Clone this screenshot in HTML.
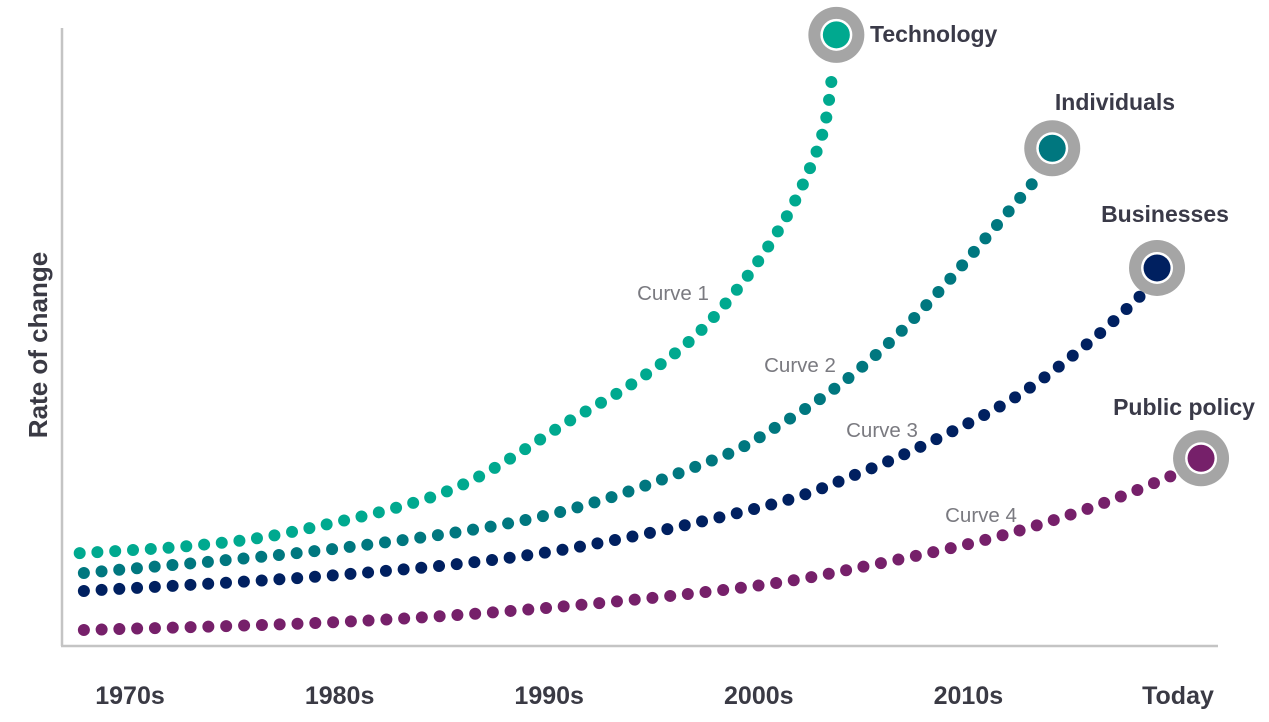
<!DOCTYPE html>
<html><head><meta charset="utf-8">
<style>
html,body{margin:0;padding:0;background:#fff;}
svg{display:block;font-family:"Liberation Sans",sans-serif;}
</style></head>
<body>
<svg id="chart" width="1269" height="722" viewBox="0 0 1269 722" xmlns="http://www.w3.org/2000/svg">
  <line x1="62" y1="28" x2="62" y2="646" stroke="#c4c4c4" stroke-width="2.5"/>
  <line x1="61" y1="646" x2="1218" y2="646" stroke="#c4c4c4" stroke-width="2.5"/>
  <text transform="translate(47,345) rotate(-90)" text-anchor="middle" font-size="26" font-weight="bold" fill="#3a3a44">Rate of change</text>
  <g id="xticks"></g>
  <g id="series"></g>
</svg>
<script>
const tickYears = [1970, 1980, 1990, 2000, 2010, 2020];
const tickLabels = ["1970s", "1980s", "1990s", "2000s", "2010s", "Today"];
const seriesNames = ["Technology", "Individuals", "Businesses", "Public policy"];
const curveLabels = ["Curve 1", "Curve 2", "Curve 3", "Curve 4"];
const c1Years = [1967.6, 1973.3, 1978.1, 1985.3, 1991.1, 1994.0, 1996.8, 1999.1, 2001.0, 2002.2, 2003.1, 2003.5, 2003.7];
const c1Values = [15.3, 16.6, 19.0, 25.5, 36.9, 42.7, 49.8, 58.4, 67.7, 75.5, 83.7, 92.3, 98.9];
const c2Years = [1967.8, 1980.0, 1990.0, 1997.8, 2000.9, 2003.8, 2006.4, 2008.7, 2011.0, 2013.2, 2014.0];
const c2Values = [12.1, 16.1, 21.5, 30.3, 35.8, 42.3, 49.8, 57.9, 66.8, 75.5, 80.6];
const c3Years = [1967.8, 1980.0, 1990.0, 2000.1, 2004.8, 2008.6, 2012.4, 2015.8, 2018.4, 2019.0];
const c3Values = [9.2, 11.8, 15.5, 22.7, 28.2, 33.9, 40.8, 49.4, 57.4, 61.3];
const c4Years = [1967.8, 1980.0, 1990.0, 1999.8, 2005.4, 2011.1, 2015.9, 2019.8, 2021.1];
const c4Values = [2.9, 4.2, 6.5, 10.0, 13.4, 17.7, 22.7, 27.9, 30.6];

const NS = "http://www.w3.org/2000/svg";
function xs(yr){ return 130 + (yr - 1970) * 20.96; }
function ys(v){ return 648 - v * 6.2; }

const colors = ["#00a98f", "#00777f", "#002060", "#76206a"];
const nameLabelPos = [[870, 42, "start"], [1115, 110, "middle"], [1165, 222, "middle"], [1184, 415, "middle"]];
const curveLabelPos = [[673, 300], [800, 372], [882, 437], [981, 522]];

const xt = document.getElementById('xticks');
tickYears.forEach((yr, i) => {
  const t = document.createElementNS(NS, 'text');
  
  
  t.setAttribute('x', xs(yr));
  t.setAttribute('y', 704);
  t.setAttribute('text-anchor', 'middle');
  t.setAttribute('font-size', '25');
  t.setAttribute('font-weight', 'bold');
  t.setAttribute('fill', '#3a3a44');
  t.textContent = tickLabels[i];
  xt.appendChild(t);
});

function catmull(pts){
  let d = 'M' + pts[0][0] + ',' + pts[0][1];
  for (let i = 0; i < pts.length - 1; i++) {
    const p0 = pts[i-1] || pts[i], p1 = pts[i], p2 = pts[i+1], p3 = pts[i+2] || p2;
    const c1x = p1[0] + (p2[0]-p0[0])/6, c1y = p1[1] + (p2[1]-p0[1])/6;
    const c2x = p2[0] - (p3[0]-p1[0])/6, c2y = p2[1] - (p3[1]-p1[1])/6;
    d += ' C' + c1x + ',' + c1y + ' ' + c2x + ',' + c2y + ' ' + p2[0] + ',' + p2[1];
  }
  return d;
}

const sg = document.getElementById('series');
const allYears = [c1Years, c2Years, c3Years, c4Years];
const allValues = [c1Values, c2Values, c3Values, c4Values];
allYears.forEach((yrs, s) => {
  const vals = allValues[s];
  const pts = yrs.map((y, i) => [xs(y), ys(vals[i])]);
  const linePts = pts.slice(0, pts.length - 1);
  const path = document.createElementNS(NS, 'path');
  
  
  path.setAttribute('d', catmull(linePts));
  path.setAttribute('fill', 'none');
  path.setAttribute('stroke', colors[s]);
  path.setAttribute('stroke-width', '12');
  path.setAttribute('stroke-linecap', 'round');
  path.setAttribute('stroke-dasharray', '0 17.8');
  sg.appendChild(path);

  const end = pts[pts.length - 1];
  const outer = document.createElementNS(NS, 'circle');
  
  
  outer.setAttribute('cx', end[0]); outer.setAttribute('cy', end[1]);
  outer.setAttribute('r', '28'); outer.setAttribute('fill', '#a5a5a5');
  sg.appendChild(outer);
  const white = document.createElementNS(NS, 'circle');
  
  
  white.setAttribute('cx', end[0]); white.setAttribute('cy', end[1]);
  white.setAttribute('r', '16'); white.setAttribute('fill', '#fff');
  sg.appendChild(white);
  const inner = document.createElementNS(NS, 'circle');
  
  
  inner.setAttribute('cx', end[0]); inner.setAttribute('cy', end[1]);
  inner.setAttribute('r', '13.5'); inner.setAttribute('fill', colors[s]);
  sg.appendChild(inner);

  const nl = document.createElementNS(NS, 'text');
  
  
  nl.setAttribute('x', nameLabelPos[s][0]);
  nl.setAttribute('y', nameLabelPos[s][1]);
  nl.setAttribute('text-anchor', nameLabelPos[s][2]);
  nl.setAttribute('font-size', '23');
  nl.setAttribute('font-weight', 'bold');
  nl.setAttribute('fill', '#3a3a48');
  nl.textContent = seriesNames[s];
  sg.appendChild(nl);

  const cl = document.createElementNS(NS, 'text');
  
  
  cl.setAttribute('x', curveLabelPos[s][0]);
  cl.setAttribute('y', curveLabelPos[s][1]);
  cl.setAttribute('text-anchor', 'middle');
  cl.setAttribute('font-size', '20.5');
  cl.setAttribute('fill', '#7a7a80');
  cl.textContent = curveLabels[s];
  sg.appendChild(cl);
});
</script>
</body></html>
